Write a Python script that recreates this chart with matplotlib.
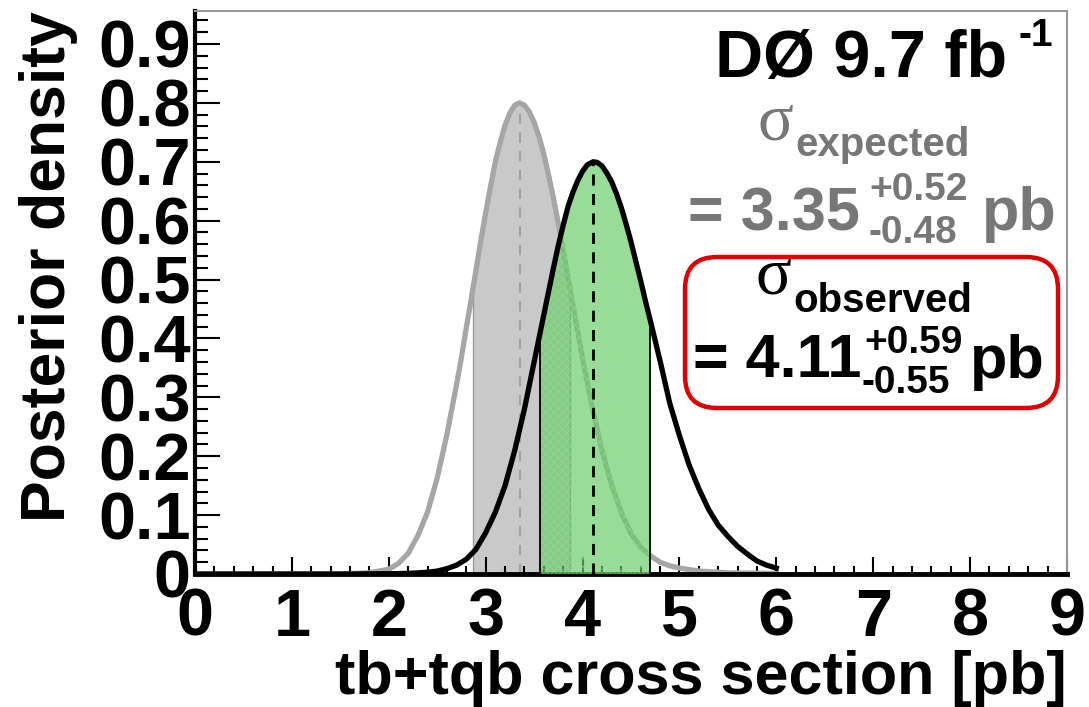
import numpy as np
import matplotlib
matplotlib.use("Agg")
from matplotlib import pyplot as plt
from matplotlib.patches import FancyBboxPatch
from matplotlib.ticker import MultipleLocator

# Posterior curves (x in pb, density)
exp_x = [0.0, 1.5, 1.8, 2.0, 2.1, 2.2, 2.3, 2.4, 2.5, 2.6, 2.7, 2.75, 2.8, 2.85,
         2.9, 2.95, 3.0, 3.05, 3.1, 3.15, 3.2, 3.25, 3.3, 3.35, 3.4, 3.45, 3.5,
         3.55, 3.6, 3.65, 3.7, 3.75, 3.8, 3.9, 4.0, 4.1, 4.2, 4.3, 4.4, 4.5, 4.6,
         4.7, 4.8, 4.9, 5.0, 5.2, 5.5, 6.0]
exp_y = [0.0, 0.0, 0.002, 0.008, 0.018, 0.035, 0.065, 0.105, 0.163, 0.237, 0.322,
         0.368, 0.418, 0.466, 0.516, 0.566, 0.613, 0.658, 0.70, 0.733, 0.762,
         0.783, 0.796, 0.80, 0.796, 0.785, 0.767, 0.743, 0.713, 0.677, 0.638,
         0.595, 0.55, 0.457, 0.366, 0.283, 0.21, 0.151, 0.104, 0.069, 0.045,
         0.031, 0.02, 0.014, 0.01, 0.005, 0.002, 0.001]

obs_x = [0.0, 1.5, 2.0, 2.2, 2.4, 2.5, 2.6, 2.7, 2.8, 2.9, 3.0, 3.1, 3.2, 3.3,
         3.4, 3.5, 3.6, 3.7, 3.75, 3.8, 3.85, 3.9, 3.95, 4.0, 4.05, 4.11, 4.15,
         4.2, 4.25, 4.3, 4.35, 4.4, 4.45, 4.5, 4.55, 4.6, 4.65, 4.7, 4.8, 4.9,
         5.0, 5.1, 5.2, 5.3, 5.4, 5.5, 5.6, 5.7, 5.8, 5.9, 6.0]
obs_y = [0.0, 0.0, 0.0005, 0.001, 0.003, 0.005, 0.009, 0.015, 0.025, 0.042, 0.07,
         0.105, 0.15, 0.21, 0.28, 0.36, 0.44, 0.52, 0.558, 0.592, 0.624, 0.648,
         0.668, 0.684, 0.695, 0.70, 0.699, 0.693, 0.681, 0.666, 0.646, 0.622,
         0.594, 0.564, 0.531, 0.498, 0.463, 0.43, 0.362, 0.29, 0.235, 0.185,
         0.145, 0.11, 0.083, 0.064, 0.047, 0.034, 0.022, 0.015, 0.01]

exp_mode, exp_up, exp_dn = 3.35, 0.52, 0.48
obs_mode, obs_up, obs_dn = 4.11, 0.59, 0.55

W, H = 1089, 707
fig = plt.figure(figsize=(W / 100, H / 100), dpi=100)
plt.rcParams["font.family"] = ["Liberation Sans", "DejaVu Sans"]
ax = fig.add_axes([195 / W, 1 - 574 / H, (1067 - 195) / W, (574 - 11) / H])


def band(xs, ys, lo, hi):
    xs = np.asarray(xs)
    ys = np.asarray(ys)
    inner = (xs > lo) & (xs < hi)
    bx = np.concatenate([[lo], xs[inner], [hi]])
    by = np.concatenate([[np.interp(lo, xs, ys)], ys[inner], [np.interp(hi, xs, ys)]])
    return bx, by


# expected band (grey)
gx, gy = band(exp_x, exp_y, exp_mode - exp_dn, exp_mode + exp_up)
ax.fill_between(gx, 0, gy, color="#c9c9c9", lw=0, zorder=1)
ax.vlines([gx[0], gx[-1]], 0, [gy[0], gy[-1]], color="#9a9a9a", lw=1, zorder=1.5)
ax.plot(exp_x, exp_y, color="#a6a6a6", lw=3.8, zorder=2, solid_joinstyle="round")
ax.vlines(exp_mode, 0, np.interp(exp_mode, exp_x, exp_y), color="#a3a3a3",
          lw=1.5, linestyles=(0, (5, 4)), zorder=2.5)

# observed band (green)
plt.rcParams["hatch.linewidth"] = 0.3
ox, oy = band(obs_x, obs_y, obs_mode - obs_dn, obs_mode + obs_up)
ax.fill_between(ox, 0, oy, facecolor=(0.40, 0.80, 0.40, 0.68), edgecolor="#9edc9e",
                hatch="xxxx", lw=0, zorder=3)
ax.vlines([ox[0], ox[-1]], 0, [oy[0], oy[-1]], color="black", lw=1.3, zorder=3.5)
ax.plot(obs_x, obs_y, color="black", lw=3.8, zorder=4, solid_joinstyle="round")
ax.vlines(obs_mode, 0, np.interp(obs_mode, obs_x, obs_y), color="black",
          lw=2, linestyles=(0, (4, 3)), zorder=4.5)

# axes styling (ROOT-like)
ax.set_xlim(0, 9)
ax.set_ylim(0, 0.956)
ax.xaxis.set_major_locator(MultipleLocator(1))
ax.xaxis.set_minor_locator(MultipleLocator(0.2))
ax.yaxis.set_minor_locator(MultipleLocator(0.02))
ax.set_yticks(np.arange(0, 0.91, 0.1))
ax.set_yticklabels(["0"] + [f"{v:.1f}" for v in np.arange(0.1, 0.91, 0.1)])
ax.tick_params(axis="both", which="both", direction="in", top=False, right=False,
               width=1.5, color="black")
ax.tick_params(axis="x", which="major", length=12, pad=10, labelsize=48)
ax.tick_params(axis="x", which="minor", length=6)
ax.tick_params(axis="y", which="major", length=18, pad=3, labelsize=48)
ax.tick_params(axis="y", which="minor", length=9.5)
for lab in ax.get_xticklabels() + ax.get_yticklabels():
    lab.set_fontweight("bold")
ax.spines["left"].set_linewidth(3)
ax.spines["bottom"].set_linewidth(3.5)
for s in ("top", "right"):
    ax.spines[s].set_color("#999999")
    ax.spines[s].set_linewidth(1.5)

ax.set_xlabel("tb+tqb cross section [pb]", fontsize=44, fontweight="bold",
              loc="right", labelpad=0)
ax.set_ylabel("Posterior density", fontsize=45, fontweight="bold", loc="top")
ax.yaxis.set_label_coords(-0.134, 1.0)

tr = fig.dpi_scale_trans


def put(px, py, s, **kw):
    fig.text(px / 100, (H - py) / 100, s, transform=tr, va="baseline", **kw)


sig = ["Liberation Serif", "DejaVu Serif"]
grey = "#777777"

put(1007, 77, "DØ 9.7 fb", fontsize=48, fontweight="bold", ha="right")
put(1019, 46, "-1", fontsize=28, fontweight="bold")

put(758, 140, "σ", fontsize=48, family=sig, color=grey)
put(795, 156, "expected", fontsize=29, fontweight="bold", color=grey)
put(688, 230, "= 3.35", fontsize=44, fontweight="bold", color=grey)
put(869, 200, "+0.52", fontsize=28, fontweight="bold", color=grey)
put(869, 243, "-0.48", fontsize=28, fontweight="bold", color=grey)
put(982, 230, "pb", fontsize=44, fontweight="bold", color=grey)

box = FancyBboxPatch((685 / 100, (H - 408) / 100), 373 / 100, 151 / 100,
                     boxstyle="round,pad=0,rounding_size=0.32", transform=tr,
                     fill=False, edgecolor="#e00000", lw=3.2)
fig.patches.append(box)

put(756, 293, "σ", fontsize=48, family=sig, color="black")
put(793, 312, "observed", fontsize=29, fontweight="bold", color="black")
put(693, 377, "= 4.11", fontsize=44, fontweight="bold", color="black")
put(864, 353, "+0.59", fontsize=28, fontweight="bold", color="black")
put(862, 393, "-0.55", fontsize=28, fontweight="bold", color="black")
put(970, 378, "pb", fontsize=44, fontweight="bold", color="black")

fig.savefig("out.png", dpi=100)
